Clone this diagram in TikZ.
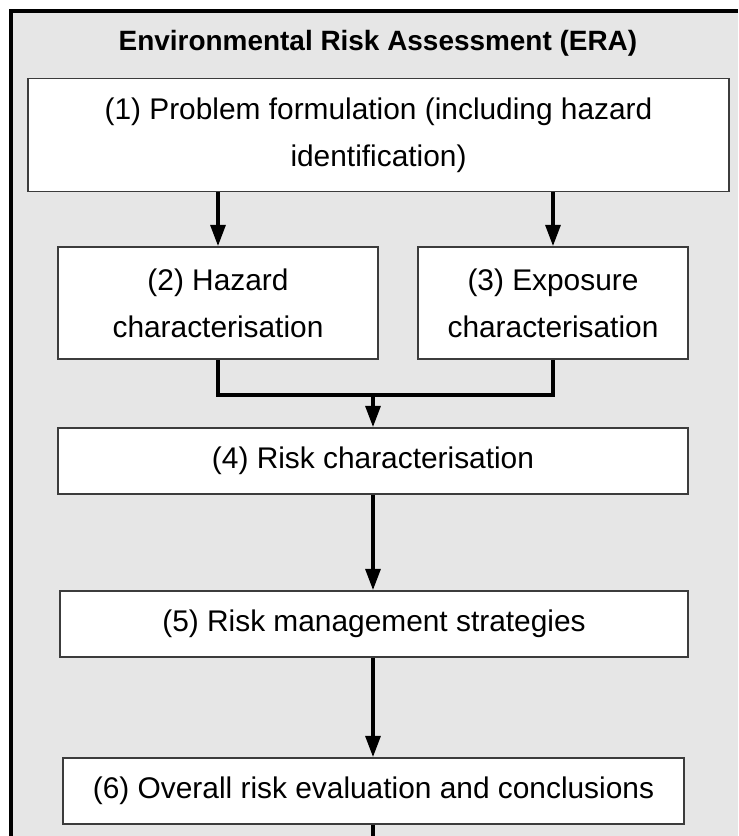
\documentclass[tikz,border=0pt]{standalone}
\usepackage{fontspec}
\setmainfont{Liberation Sans}
\usetikzlibrary{arrows.meta,calc}
\definecolor{eraGray}{RGB}{230,230,230}
\definecolor{eraLine}{RGB}{60,60,60}
\tikzset{
  erabox/.style={draw=eraLine, line width=1.1pt, fill=white, align=center, inner sep=0pt, font=\fontsize{17}{26.7}\selectfont},
  eraarrow/.style={line width=1.8pt, -{Triangle[width=8.5pt,length=12pt]}},
  eraline/.style={line width=1.8pt},
}

\begin{document}
\begin{tikzpicture}[x=0.02cm, y=-0.02cm]
			%%%%% START %%%%%
			
			\useasboundingbox (0,0) rectangle (738,836);
			\fill[white] (0,0) rectangle (738,836);
			\fill[eraGray] (11, 11) rectangle (738, 836);
			\draw[line width=1.8pt] (11, 836) -- (11, 11) -- (738, 11);
			
			\node[font=\bfseries\fontsize{15.9}{19}\selectfont] (title) at (378, 43) {Environmental Risk Assessment (ERA)};
			
			\node[erabox, minimum width=14.02cm, minimum height=2.26cm] (problem) at (378.5, 135) {(1) Problem formulation (including hazard\\identification)};
			
			\node[erabox, minimum width=6.4cm, minimum height=2.24cm] (hazard) at (218, 303) {(2) Hazard\\characterisation};
			\node[erabox, minimum width=5.4cm, minimum height=2.24cm] (exposure) at (553, 303) {(3) Exposure\\characterisation};
			
			\node[erabox, minimum width=12.6cm, minimum height=1.32cm] (riskchar) at (373, 461) {(4) Risk characterisation};
			\node[erabox, minimum width=12.56cm, minimum height=1.32cm] (riskmgmt) at (374, 624) {(5) Risk management strategies};
			\node[erabox, minimum width=12.42cm, minimum height=1.32cm] (overall) at (373.5, 791) {(6) Overall risk evaluation and conclusions};
			
			\coordinate (join) at (373, 395);
			\coordinate (tail) at (373, 836);
			
			\draw[eraarrow] (problem.south -| hazard.north) -- (hazard.north);
			\draw[eraarrow] (problem.south -| exposure.north) -- (exposure.north);
			
			\draw[eraline] (hazard.south) -- (hazard.south |- join) -| (exposure.south);
			\draw[eraarrow] (join) -- (join |- riskchar.north);
			
			\draw[eraarrow] (join |- riskchar.south) -- (join |- riskmgmt.north);
			\draw[eraarrow] (join |- riskmgmt.south) -- (join |- overall.north);
			\draw[eraline] (join |- overall.south) -- (tail);
			
			%%%%% END %%%%%
\end{tikzpicture}
\end{document}
